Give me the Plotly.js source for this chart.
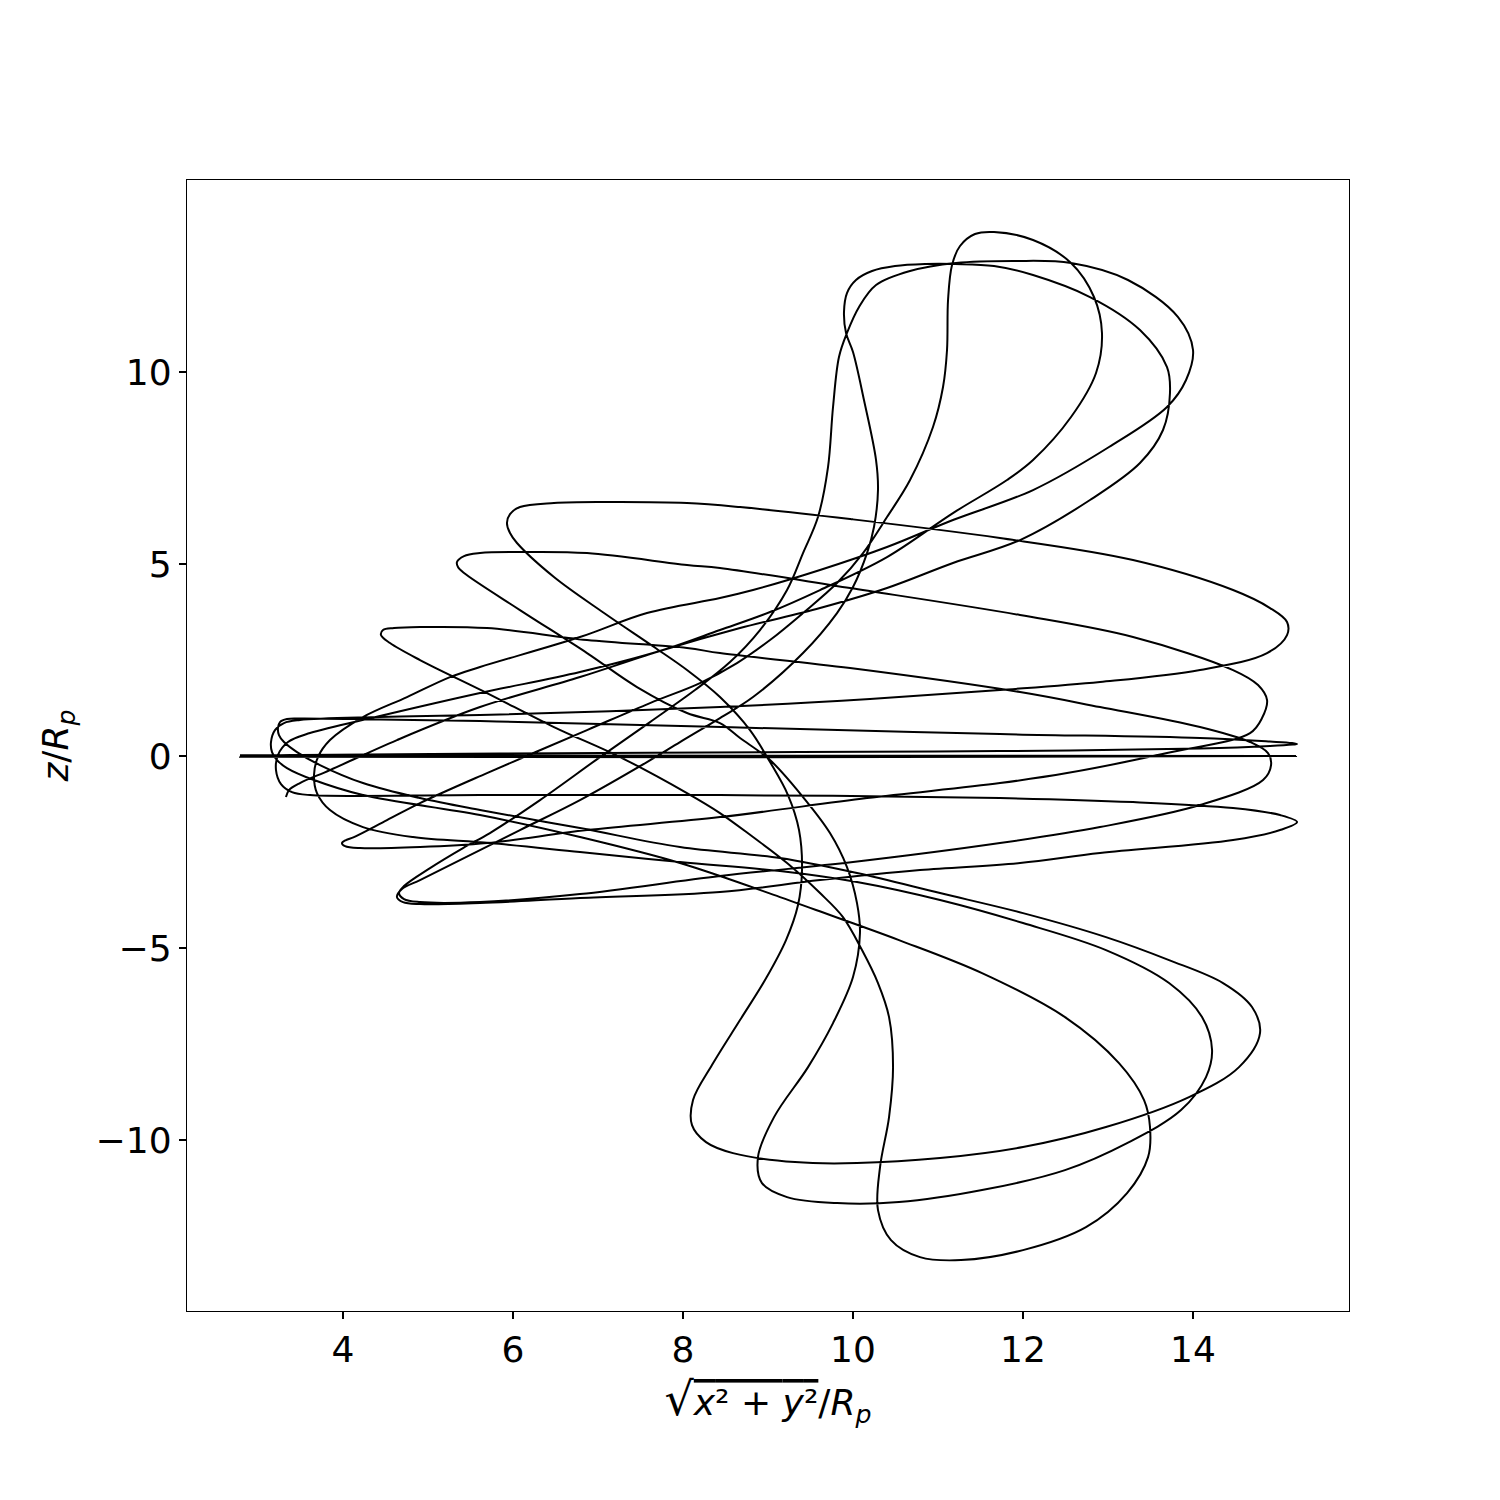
<!DOCTYPE html>
<html>
<head>
<meta charset="utf-8">
<script src="https://cdn.plot.ly/plotly-3.0.1.min.js"></script>
<style>html,body{margin:0;padding:0;background:#fff;}#chart{width:1500px;height:1500px;}</style>
</head>
<body>
<div id="chart"></div>
<script>
// Trajectory, split into consecutive pieces (rho = sqrt(x^2+y^2)/Rp, z/Rp)
const seg1Rho = [15.212,2.788,15.212,2.788,3.494,5.847,9.376,11.729,14.082,14.906,15.176,15.224,15.165,14.906,14.082,11.729,9.376,7.024,5.612,4.435,3.494,3.341,3.259,3.235,3.247,3.306,3.459,3.729,4.235,4.906,5.612,6.788,7.965,9.141];
const seg1Z   = [0,0.02,0,-0.02,0.026,0.065,0.104,0.13,0.195,0.26,0.299,0.313,0.339,0.378,0.469,0.573,0.703,0.833,0.911,0.951,0.977,0.964,0.885,0.729,0.547,0.365,0.104,-0.234,-0.703,-1.094,-1.406,-1.875,-2.37,-2.656];

const seg2Rho = [10.047,11.024,12.0,12.976,13.718,14.353,14.694,14.788,14.541,13.953,12.976,12.0,11.024,10.047,9.318,8.588,8.271,8.106,8.118,8.341,8.671,8.965,9.212,9.353,9.4,9.365,9.235,9.024,8.788,8.435,8.047,7.659,7.071,6.482,6.047,5.965,5.929,5.965,6.082,6.482,7.071,8.047,8.671,9.965,11.729,13.294,14.471,14.906,15.106,15.106,14.871,14.082,12.906,11.729,10.2,8.435,5.612,4.435,3.494,3.306,3.2,3.153,3.165,3.224,3.341,3.659,4.235,5.612,6.788,7.965,9.141];
const seg2Z   = [-3.047,-3.568,-4.089,-4.714,-5.313,-5.911,-6.536,-7.214,-8.099,-8.88,-9.661,-10.182,-10.469,-10.599,-10.573,-10.339,-10.052,-9.609,-8.958,-8.047,-6.875,-5.833,-4.792,-3.88,-2.969,-1.927,-1.016,-0.156,0.677,1.536,2.24,2.839,3.724,4.661,5.547,5.807,6.068,6.302,6.484,6.589,6.615,6.589,6.484,6.172,5.677,5.104,4.323,3.854,3.49,3.151,2.682,2.24,1.927,1.719,1.484,1.276,1.068,1.016,0.938,0.859,0.677,0.365,0.104,-0.104,-0.313,-0.625,-1.016,-1.536,-2.109,-2.786,-3.672];

const seg3Rho = [9.565,10.541,11.518,12.494,13.129,13.424,13.494,13.471,13.224,12.741,12.0,11.271,10.788,10.447,10.294,10.318,10.424,10.471,10.424,10.294,10.106,9.882,9.612,9.224,8.824,8.435,8.047,7.259,6.482,5.694,4.906,4.553,4.447,4.471,4.6,4.906,5.694,6.871,8.047,8.435,9.965,11.965,12.906,14.082,14.671,14.882,14.918,14.824,14.082,12.906,11.729,10.0,8.435,6.788,5.612,4.906,4.718,4.659,4.718,5.024,5.412,5.729];
const seg3Z   = [-4.01,-4.792,-5.651,-6.797,-7.995,-8.958,-9.661,-10.443,-11.38,-12.266,-12.865,-13.125,-13.047,-12.604,-11.823,-10.703,-9.401,-8.099,-6.797,-5.911,-5.052,-4.193,-3.568,-2.786,-2.109,-1.484,-0.964,-0.026,0.755,1.641,2.5,2.943,3.151,3.281,3.333,3.359,3.333,3.021,2.813,2.682,2.292,1.667,1.276,0.755,0.365,0.078,-0.234,-0.625,-1.276,-1.849,-2.266,-2.76,-3.125,-3.594,-3.802,-3.802,-3.724,-3.568,-3.385,-2.917,-2.396,-2.005];

const seg4Rho = [6.318,7.024,7.612,8.141,8.553,8.906,9.224,9.412,9.588,9.706,9.765,9.835,9.929,10.071,10.271,10.671,11.212,11.894,12.565,13.235,13.824,14.0,13.918,13.694,13.012,12.118,11.176,10.4,9.612,8.824,8.435,7.576,6.788,5.612,5.259,4.753,4.235,3.847,3.706,3.659,3.694,3.847,4.235,4.824,5.729,6.788,7.965,9.141];
const seg4Z   = [-1.146,-0.026,0.885,1.719,2.448,3.281,4.323,5.286,6.224,7.526,9.089,10.391,11.016,11.693,12.266,12.63,12.839,12.891,12.839,12.396,11.432,10.573,9.792,9.089,8.047,6.927,6.146,5.443,4.844,4.323,4.115,3.724,3.099,2.318,2.057,1.536,1.016,0.417,-0.026,-0.495,-0.964,-1.406,-1.849,-2.109,-2.266,-2.5,-2.76,-2.995];

const seg5Rho = [10.047,11.024,12.0,12.976,13.718,14.106,14.224,14.153,13.859,13.224,12.494,11.518,10.541,9.812,9.224,8.929,8.882,9.071,9.471,9.765,10.0,10.082,10.047,9.929,9.729,9.412,9.024,8.671,8.435,8.047,7.459,6.871,6.082,5.424,5.353,5.341,5.424,5.612,6.082,6.871,8.047,8.435,9.965,11.965,13.294,14.471,14.765,14.871,14.812,14.671,13.694,12.518,11.729,10.165,8.435,6.871,5.694,4.906,4.2,4.024,3.988,4.035,4.129,4.518,4.906,5.694,6.871,7.612,8.2];
const seg5Z   = [-3.281,-3.75,-4.349,-5.052,-5.911,-6.797,-7.656,-8.359,-9.219,-10.078,-10.781,-11.302,-11.615,-11.641,-11.484,-11.12,-10.443,-9.401,-8.099,-6.953,-5.755,-4.609,-3.828,-2.891,-2.005,-1.068,-0.104,0.469,0.859,1.12,1.797,2.682,3.802,4.766,4.922,5.052,5.208,5.286,5.313,5.286,4.974,4.896,4.375,3.672,3.099,2.24,1.849,1.458,0.99,0.599,0.078,-0.443,-0.703,-1.094,-1.589,-1.927,-2.266,-2.37,-2.396,-2.344,-2.266,-2.188,-2.109,-1.667,-1.224,-0.443,0.677,1.38,1.901];

const seg6Rho = [8.635,9.024,9.412,9.812,10.118,10.4,10.671,10.941,11.059,11.106,11.118,11.165,11.259,11.435,11.659,12.118,12.565,12.835,12.929,12.859,12.565,12.118,11.812,11.176,10.4,9.612,9.024,8.435,7.765,6.788,5.612,4.435,3.612,3.353,3.235,3.212,3.271,3.4,3.612,5.612,8.435,11.729,13.294,14.471,15.024,15.224,15.024,14.471,12.906,11.965,10.788,9.612,8.435,6.788,5.612,4.906,4.706,4.635,4.694,4.906,5.376,6.082,6.788];
const seg6Z   = [2.422,3.021,3.724,4.505,5.286,6.224,7.188,8.568,9.609,10.573,11.875,12.786,13.281,13.594,13.646,13.438,12.839,11.953,11.016,9.974,8.828,7.708,7.188,6.328,5.182,4.323,3.75,3.281,2.76,2.188,1.641,1.042,0.599,0.365,0.026,-0.365,-0.729,-0.938,-1.016,-1.016,-1.016,-1.094,-1.198,-1.354,-1.536,-1.719,-1.927,-2.188,-2.526,-2.786,-2.969,-3.229,-3.542,-3.698,-3.828,-3.854,-3.802,-3.672,-3.464,-3.229,-2.708,-1.927,-1.146];

const seg7Rho = [7.576,7.965,8.435,8.824,9.412,9.812,10.0,10.165,10.247,10.294,10.271,10.129,10.0,9.918,9.894,9.929,10.035,10.224,10.494,10.847,11.2,11.659,12.118,12.788,13.376,13.694,13.729,13.647,13.376,12.788,11.965,11.176,10.4,9.612,8.671,7.765,6.788,5.612,4.635,3.847,3.494,3.365,3.329];
const seg7Z   = [-0.156,0.365,0.99,1.536,2.682,3.724,4.401,5.286,5.964,6.927,7.708,9.271,10.521,11.016,11.563,12.057,12.396,12.63,12.76,12.813,12.813,12.76,12.526,11.953,11.094,10.13,9.453,8.49,7.63,6.667,5.625,5.026,4.375,3.854,3.333,2.76,2.057,1.276,0.417,-0.365,-0.703,-0.885,-1.068];

const xTickVals = [4, 6, 8, 10, 12, 14];
const yTickVals = [-10, -5, 0, 5, 10];

const rho = [].concat(seg1Rho, seg2Rho, seg3Rho, seg4Rho, seg5Rho, seg6Rho, seg7Rho);
const zz  = [].concat(seg1Z, seg2Z, seg3Z, seg4Z, seg5Z, seg6Z, seg7Z);

const font = {family: 'DejaVu Sans, sans-serif', size: 36, color: '#000'};

const trace = {
  x: rho, y: zz, type: 'scatter', mode: 'lines',
  line: {color: '#000', width: 2, shape: 'spline', smoothing: 1},
  hoverinfo: 'skip', showlegend: false
};

const layout = {
  width: 1500, height: 1500,
  paper_bgcolor: '#fff', plot_bgcolor: '#fff',
  margin: {l: 187, r: 151, t: 180, b: 189},
  font: font,
  showlegend: false,
  xaxis: {
    range: [2.165, 15.835], tickvals: xTickVals, ticktext: xTickVals.map(String),
    ticks: 'outside', ticklen: 7, tickwidth: 1.2, tickcolor: '#000',
    showline: true, linecolor: '#000', linewidth: 1.2, mirror: true,
    showgrid: false, zeroline: false, tickfont: font, automargin: false,
    title: {text: '<span style="font-size:46px">√</span><span style="text-decoration:overline"><i>x</i>² + <i>y</i>²</span>/<i>R<sub>p</sub></i>', font: font, standoff: 20}
  },
  yaxis: {
    range: [-14.45, 15.0], tickvals: yTickVals,
    ticks: 'outside', ticklen: 7, tickwidth: 1.2, tickcolor: '#000',
    showline: true, linecolor: '#000', linewidth: 1.2, mirror: true,
    showgrid: false, zeroline: false, tickfont: font, automargin: false,
    title: {text: '<i>z</i>/<i>R<sub>p</sub></i>', font: font, standoff: 16}
  }
};

Plotly.newPlot('chart', [trace], layout, {staticPlot: true, displayModeBar: false});
</script>
</body>
</html>
